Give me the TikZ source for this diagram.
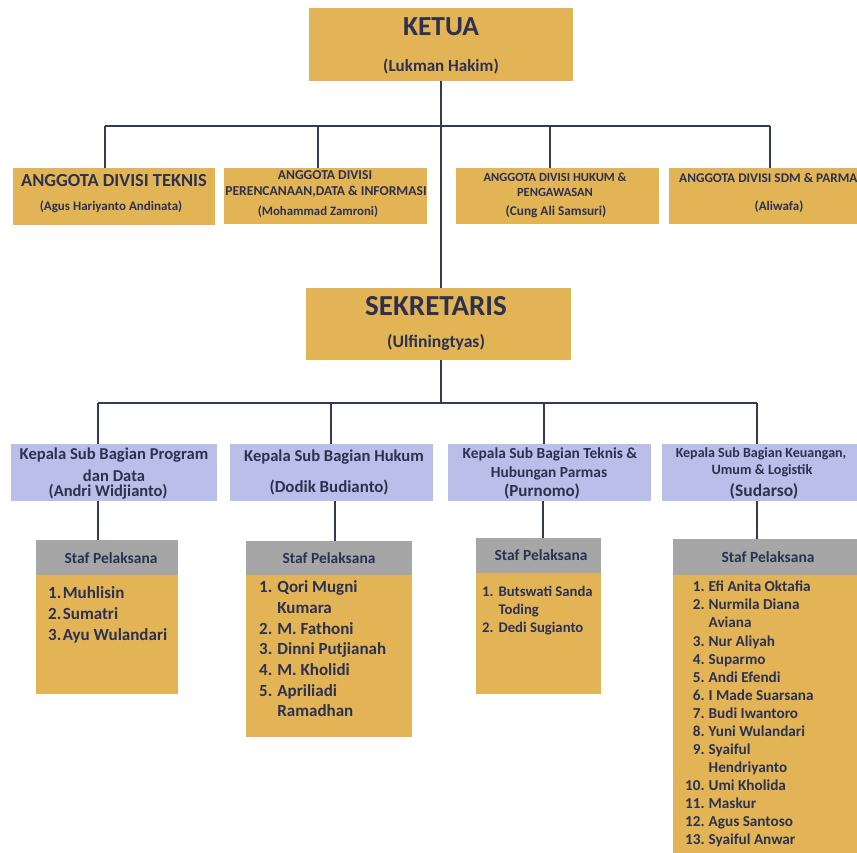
\documentclass[tikz,border=0pt]{standalone}
\usepackage{fontspec}
\setmainfont{Carlito}
\usetikzlibrary{calc}
\definecolor{gold}{HTML}{E2B456}
\definecolor{lav}{HTML}{B9BFE8}
\definecolor{hdr}{HTML}{A6A6A6}
\definecolor{navy}{HTML}{2C3150}
\definecolor{linec}{HTML}{343A55}
\newcommand\fsz[2]{\fontsize{#1}{#2}\selectfont}
\begin{document}
\begin{tikzpicture}[x=1pt,y=-1pt,
  box/.style={rectangle, draw=none, inner sep=0, outer sep=0, anchor=north west},
  goldbox/.style={box, fill=gold},
  lavbox/.style={box, fill=lav},
  graybox/.style={box, fill=hdr},
  t/.style={inner sep=0, text=navy, font=\bfseries\fsz{#1}{#1}},
  lst/.style={inner sep=0, anchor=north west, text=navy, align=left},
  conn/.style={draw=linec, line width=1.8pt}
]
\useasboundingbox (0,0) rectangle (857,852);
\clip (0,0) rectangle (857,852);
\fill[white] (0,0) rectangle (857,852);

% ---- boxes ----
\node[goldbox, minimum width=264, minimum height=73] (ketua) at (309,8) {};
\node[goldbox, minimum width=202, minimum height=57] (a1) at (13,168) {};
\node[goldbox, minimum width=203, minimum height=56] (a2) at (224,168) {};
\node[goldbox, minimum width=203, minimum height=56] (a3) at (456,168) {};
\node[goldbox, minimum width=220, minimum height=56] (a4) at (669,168) {};
\node[goldbox, minimum width=265, minimum height=72] (sek) at (306,288) {};
\node[lavbox, minimum width=206, minimum height=57] (s1) at (11,444) {};
\node[lavbox, minimum width=203, minimum height=57] (s2) at (230,444) {};
\node[lavbox, minimum width=203, minimum height=57] (s3) at (448,444) {};
\node[lavbox, minimum width=210, minimum height=57] (s4) at (662,444) {};
\node[graybox, minimum width=142, minimum height=35] (t1h) at (36,540) {};
\node[goldbox, minimum width=142, minimum height=119] (t1) at (36,575) {};
\node[graybox, minimum width=166, minimum height=34] (t2h) at (246,541) {};
\node[goldbox, minimum width=166, minimum height=162] (t2) at (246,575) {};
\node[graybox, minimum width=125, minimum height=35] (t3h) at (476,538) {};
\node[goldbox, minimum width=125, minimum height=121] (t3) at (476,573) {};
\node[graybox, minimum width=190, minimum height=36] (t4h) at (673,539) {};
\node[goldbox, minimum width=190, minimum height=290] (t4) at (673,575) {};

% ---- connectors ----
\coordinate (k1) at (105,126);
\coordinate (k2) at (318,126);
\coordinate (k3) at (550,126);
\coordinate (k4) at (770,126);
\draw[conn] (k1) -- (k4);
\draw[conn] (ketua.south) -- (ketua.south |- sek.north);
\draw[conn] (k1) -- (k1 |- a1.north);
\draw[conn] (k2) -- (k2 |- a2.north);
\draw[conn] (k3) -- (k3 |- a3.north);
\draw[conn] (k4) -- (k4 |- a4.north);
\coordinate (b1) at (98,403);
\coordinate (b2) at (331,403);
\coordinate (b3) at (544,403);
\coordinate (b4) at (757,403);
\draw[conn] (ketua.south |- sek.south) -- (ketua.south |- b1);
\draw[conn] (b1) -- (b4);
\draw[conn] (b1) -- (b1 |- s1.north);
\draw[conn] (b2) -- (b2 |- s2.north);
\draw[conn] (b3) -- (b3 |- s3.north);
\draw[conn] (b4) -- (b4 |- s4.north);
\coordinate (d1) at (98,0);
\coordinate (d2) at (335,0);
\coordinate (d3) at (543,0);
\coordinate (d4) at (757,0);
\draw[conn] (d1 |- s1.south) -- (d1 |- t1h.north);
\draw[conn] (d2 |- s2.south) -- (d2 |- t2h.north);
\draw[conn] (d3 |- s3.south) -- (d3 |- t3h.north);
\draw[conn] (d4 |- s4.south) -- (d4 |- t4h.north);

% ---- texts ----
\node[t=27.5] (ketuaA) at (441,27) {KETUA};
\node[t=17] (ketuaB) at (441,66) {(Lukman Hakim)};
\node[t=18.4] (a1A) at (114,181) {ANGGOTA DIVISI TEKNIS};
\node[t=13] (a1B) at (111,207) {(Agus Hariyanto Andinata)};
\node[t=13.6] (a2A) at (325,175) {ANGGOTA DIVISI};
\node[t=13.6] (a2B) at (326,192) {PERENCANAAN,DATA \& INFORMASI};
\node[t=12.8] (a2C) at (318,212) {(Mohammad Zamroni)};
\node[t=12.5] (a3A) at (555,177) {ANGGOTA DIVISI HUKUM \&};
\node[t=12.5] (a3B) at (555,192) {PENGAWASAN};
\node[t=13.3] (a3C) at (556,212) {(Cung Ali Samsuri)};
\node[t=13.3, anchor=west] (a4A) at (679,178) {ANGGOTA DIVISI SDM \& PARMA};
\node[t=13] (a4B) at (779,207) {(Aliwafa)};
\node[t=29] (sekA) at (436,306) {SEKRETARIS};
\node[t=17.6] (sekB) at (436,342) {(Ulfiningtyas)};

\node[t=16.6] (s1A) at (114,455) {Kepala Sub Bagian Program};
\node[t=16.6] (s1B) at (114,476) {dan Data};
\node[t=16.5] (s1C) at (108,492) {(Andri Widjianto)};
\node[t=16.6] (s2A) at (334,457) {Kepala Sub Bagian Hukum};
\node[t=16.9] (s2B) at (329,487) {(Dodik Budianto)};
\node[t=15.4] (s3A) at (550,454) {Kepala Sub Bagian Teknis \&};
\node[t=15.4] (s3B) at (549,473) {Hubungan Parmas};
\node[t=17] (s3C) at (542,491) {(Purnomo)};
\node[t=14] (s4A) at (761,454) {Kepala Sub Bagian Keuangan,};
\node[t=14.2] (s4B) at (762,471) {Umum \& Logistik};
\node[t=17.5] (s4C) at (764,491) {(Sudarso)};

\node[t=15.5] (t1hA) at (111,558) {Staf Pelaksana};
\node[t=15.5] (t2hA) at (329,558) {Staf Pelaksana};
\node[t=15.5] (t3hA) at (541,555) {Staf Pelaksana};
\node[t=15.5] (t4hA) at (768,557) {Staf Pelaksana};

\node[lst, font=\bfseries\fsz{17}{21}] (t1L) at (48,584) {%
\setlength\tabcolsep{0pt}\begin{tabular}{r@{\hspace{1.5pt}}l}
1.&Muhlisin\\ 2.&Sumatri\\ 3.&Ayu Wulandari
\end{tabular}};
\node[lst, font=\bfseries\fsz{17}{20.7}] (t2L) at (259,578) {%
\setlength\tabcolsep{0pt}\begin{tabular}{r@{\hspace{5pt}}l}
1.&Qori Mugni\\ &Kumara\\ 2.&M. Fathoni\\ 3.&Dinni Putjianah\\ 4.&M. Kholidi\\ 5.&Apriliadi\\ &Ramadhan
\end{tabular}};
\node[lst, font=\bfseries\fsz{14.7}{18}] (t3L) at (482,584) {%
\setlength\tabcolsep{0pt}\begin{tabular}{r@{\hspace{5pt}}l}
1.&Butswati Sanda\\ &Toding\\ 2.&Dedi Sugianto
\end{tabular}};
\node[lst, font=\bfseries\fsz{15.2}{18.07}] (t4L) at (685,579) {%
\setlength\tabcolsep{0pt}\begin{tabular}{r@{\hspace{4pt}}l}
1.&Efi Anita Oktafia\\ 2.&Nurmila Diana\\ &Aviana\\ 3.&Nur Aliyah\\ 4.&Suparmo\\ 5.&Andi Efendi\\ 6.&I Made Suarsana\\ 7.&Budi Iwantoro\\ 8.&Yuni Wulandari\\ 9.&Syaiful\\ &Hendriyanto\\ 10.&Umi Kholida\\ 11.&Maskur\\ 12.&Agus Santoso\\ 13.&Syaiful Anwar
\end{tabular}};
\end{tikzpicture}
\end{document}
